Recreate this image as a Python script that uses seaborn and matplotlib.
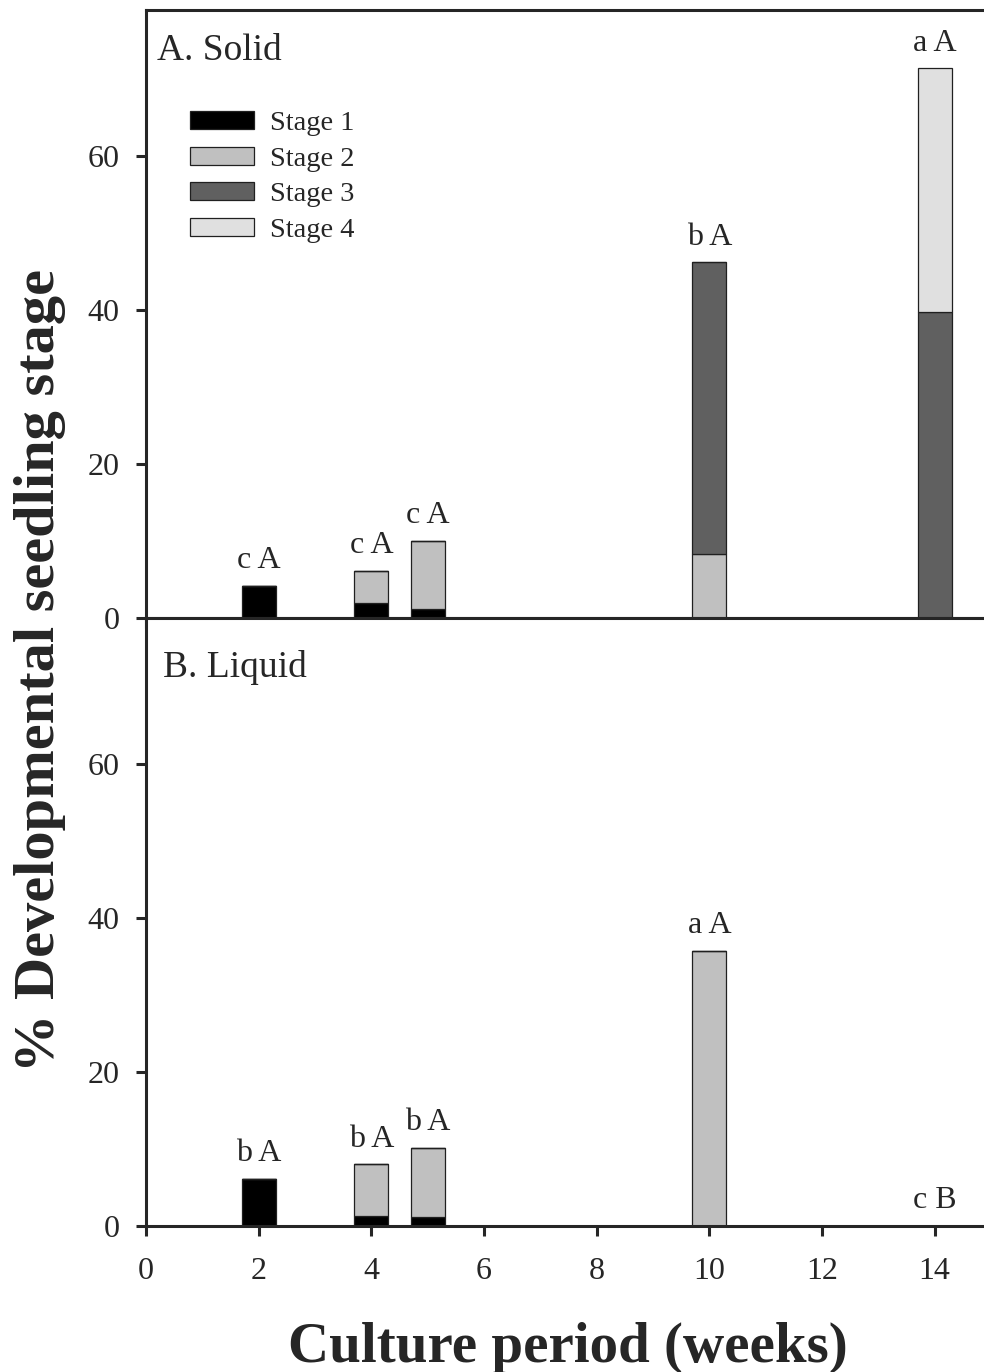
import numpy as np
import matplotlib
matplotlib.use("Agg")
import matplotlib.pyplot as plt
from matplotlib.patches import Patch
import seaborn as sns

# Culture period (weeks) and % of seedlings in each developmental stage
weeks = [2, 4, 5, 10, 14]

solid_stage1 = [4.2, 1.9, 1.2, 0.0, 0.0]
solid_stage2 = [0.0, 4.2, 8.8, 8.3, 0.0]
solid_stage3 = [0.0, 0.0, 0.0, 37.9, 39.8]
solid_stage4 = [0.0, 0.0, 0.0, 0.0, 31.6]

liquid_stage1 = [6.1, 1.3, 1.2, 0.0, 0.0]
liquid_stage2 = [0.0, 6.7, 8.9, 35.7, 0.0]
liquid_stage3 = [0.0, 0.0, 0.0, 0.0, 0.0]
liquid_stage4 = [0.0, 0.0, 0.0, 0.0, 0.0]

solid_letters = ["c A", "c A", "c A", "b A", "a A"]
liquid_letters = ["b A", "b A", "b A", "a A", "c B"]

stage_names = ["Stage 1", "Stage 2", "Stage 3", "Stage 4"]
stage_colors = ["#000000", "#c0c0c0", "#606060", "#e0e0e0"]

sns.set_style("ticks")
plt.rcParams["font.family"] = ["Liberation Serif", "DejaVu Serif"]
plt.rcParams["axes.linewidth"] = 2.2

fig = plt.figure(figsize=(9.84, 13.72), dpi=100)
left = 146 / 984
width = 845 / 984
h = 608 / 1372
ax_top = fig.add_axes([left, 1 - 618 / 1372, width, h])
ax_bot = fig.add_axes([left, 1 - 1226 / 1372, width, h])

panels = [
    (ax_top, [solid_stage1, solid_stage2, solid_stage3, solid_stage4], solid_letters, "A. Solid", 0.013, 0.933),
    (ax_bot, [liquid_stage1, liquid_stage2, liquid_stage3, liquid_stage4], liquid_letters, "B. Liquid", 0.020, 0.919),
]

for ax, stages, letters, title, tx, ty in panels:
    bottom = np.zeros(len(weeks))
    for vals, col in zip(stages, stage_colors):
        vals = np.asarray(vals, dtype=float)
        sns.barplot(x=weeks, y=vals, bottom=bottom, native_scale=True, width=0.6,
                    color=col, saturation=1, edgecolor="#202020", linewidth=0.9,
                    errorbar=None, ax=ax)
        bottom = bottom + vals
    for wk, tot, lab in zip(weeks, bottom, letters):
        ax.text(wk, tot + 1.4, lab, ha="center", va="bottom", fontsize=23)
    ax.text(tx, ty, title, transform=ax.transAxes, ha="left", va="center", fontsize=27)
    ax.set_xlim(0, 15)
    ax.set_ylim(0, 79)
    ax.set_yticks([0, 20, 40, 60])
    ax.set_xticks([0, 2, 4, 6, 8, 10, 12, 14])
    ax.tick_params(axis="both", direction="out", length=7, width=2.2, labelsize=23)
    ax.tick_params(axis="y", pad=12)
    ax.tick_params(axis="x", pad=15)
    ax.set_xlabel("")
    ax.set_ylabel("")
    for s in ax.spines.values():
        s.set_visible(True)
        s.set_linewidth(2.2)

ax_top.tick_params(axis="x", labelbottom=False)

handles = [Patch(facecolor=c, edgecolor="#202020", linewidth=0.9) for c in stage_colors]
ax_top.legend(handles, stage_names, loc="upper left", bbox_to_anchor=(0.052, 0.834),
              frameon=False, fontsize=20.5, handlelength=2.25, handleheight=0.6,
              handletextpad=0.55, labelspacing=0.37, borderpad=0, borderaxespad=0)

fig.text(40 / 984, 1 - 670 / 1372, "% Developmental seedling stage", rotation=90,
         ha="center", va="center", fontsize=42, fontweight="bold")
fig.text(568 / 984, 10 / 1372, "Culture period (weeks)", ha="center", va="baseline",
         fontsize=41, fontweight="bold")

fig.savefig("out.png", dpi=100)
